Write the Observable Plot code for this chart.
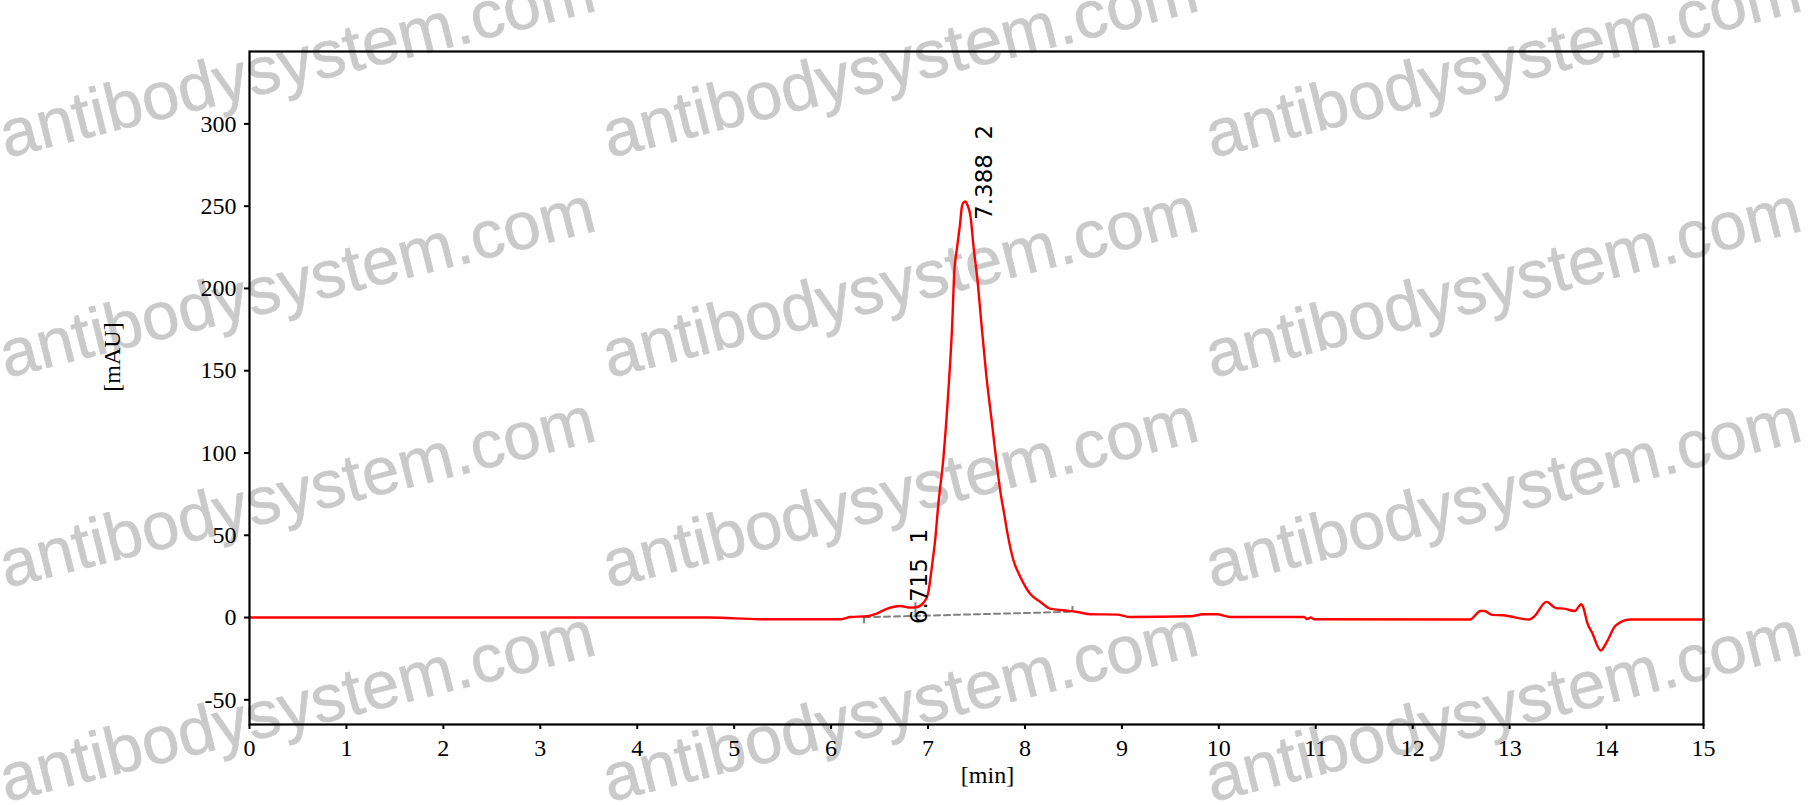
<!DOCTYPE html>
<html><head><meta charset="utf-8">
<script src="https://cdn.jsdelivr.net/npm/d3@7"></script>
<script src="https://cdn.jsdelivr.net/npm/@observablehq/plot@0.6"></script>
<style>
html,body{margin:0;padding:0;background:#fff;}
#wrap{position:relative;width:1812px;height:805px;overflow:hidden;}
#wm{position:absolute;left:0;top:0;}
#chart{position:absolute;left:0;top:0;}
</style></head><body>
<div id="wrap"><svg id="wm" width="1812" height="805"></svg><div id="chart"></div></div>
<script>
// ---- data ----
const timeMin = [0, 4.75, 5.27, 6.10, 6.20, 6.37, 6.47, 6.58, 6.71, 6.82, 6.89, 6.96, 7.00, 7.04, 7.08, 7.10, 7.16, 7.21, 7.25, 7.27, 7.30, 7.33, 7.35, 7.37, 7.385, 7.40, 7.44, 7.47, 7.51, 7.55, 7.60, 7.66, 7.72, 7.75, 7.78, 7.82, 7.88, 7.95, 8.06, 8.16, 8.26, 8.40, 8.54, 8.68, 8.95, 9.09, 9.71, 9.84, 9.98, 10.12, 10.88, 10.91, 10.95, 10.98, 12.59, 12.70, 12.74, 12.82, 12.93, 13.20, 13.25, 13.38, 13.48, 13.56, 13.67, 13.74, 13.76, 13.80, 13.85, 13.94, 14.01, 14.09, 14.24, 15.00];
const signalMAU = [0, 0, -1.0, -1.0, 0.3, 0.8, 2.4, 5.4, 7.0, 6.0, 6.4, 9.5, 14.5, 31, 51, 65, 98, 138, 179, 209, 225, 239, 250, 252.5, 252.8, 251.5, 243, 225, 205, 179, 148, 118, 88, 75, 65, 51, 35, 25, 14, 9.5, 5.4, 4.4, 3.4, 2.0, 1.8, 0.3, 0.8, 2.0, 2.0, 0.3, 0.3, -0.9, 0, -1.0, -1.2, 4.0, 4.0, 1.6, 1.4, -1.2, 0.4, 9.5, 5.7, 5.4, 4.0, 8.1, 6.1, -3.1, -9.1, -20, -14, -5.1, -1.2, -1.2];
const xTicks = [0,1,2,3,4,5,6,7,8,9,10,11,12,13,14,15];
const yTicks = [-50,0,50,100,150,200,250,300];
const peakRT = [6.715, 7.388];
const peakHeight = [7.0, 252.6];
const peakNumber = [1, 2];
const baselineT = [6.34, 8.49];
const baselineY = [0.2, 3.5];
const markerT = [6.34, 6.87, 8.49];
const markerFrom = [0.2, 1.0, 3.5];
const markerTo = [-3.8, 9.0, 6.7];
const watermarkText = "antibodysystem.com";

// ---- tables built from the arrays ----
const trace = timeMin.map((t, i) => ({t, v: signalMAU[i]}));
const peaks = peakRT.map((rt, i) => ({rt, h: peakHeight[i], n: peakNumber[i]}));
const baseline = baselineT.map((t, i) => ({t, v: baselineY[i]}));
const markers = markerT.map((t, i) => ({t, y1: markerFrom[i], y2: markerTo[i]}));

// ---- watermark layer (behind the chart) ----
const wm = d3.select("#wm");
const wmCols = [6, 609, 1212], wmRows = [158, 378, 588, 802];
for (const y of wmRows) for (const x of wmCols) {
  wm.append("text").attr("x", x).attr("y", y)
    .attr("transform", `rotate(-14 ${x} ${y})`)
    .attr("font-family", "'Liberation Sans', Arial, sans-serif")
    .attr("font-size", 67).attr("fill", "#cacaca")
    .attr("stroke", "#cacaca").attr("stroke-width", 0.6)
    .text(watermarkText);
}

const serif = "'Liberation Serif', 'Times New Roman', serif";
const chart = Plot.plot({
  width: 1812, height: 805,
  marginLeft: 249, marginRight: 109, marginTop: 51, marginBottom: 81,
  style: {background: "transparent", fontFamily: serif, fontSize: "24px", color: "black"},
  x: {domain: [0, 15]},
  y: {domain: [-65, 344]},
  marks: [
    Plot.line(baseline, {x: "t", y: "v", stroke: "#808080", strokeWidth: 2, strokeDasharray: "6,4"}),
    Plot.ruleX(markers, {x: "t", y1: "y1", y2: "y2", stroke: "#808080", strokeWidth: 2}),
    Plot.line(trace, {x: "t", y: "v", stroke: "#ff0000", strokeWidth: 2.4, curve: "monotone-x"}),
    Plot.text(peaks, {x: "rt", y: "h", text: d => `${d.rt}\u00a0\u00a0${d.n}`, rotate: -90, textAnchor: "start", dx: 19, dy: 18, fontFamily: "'DejaVu Sans', Verdana, sans-serif", fontSize: 23, fill: "black"}),
    Plot.axisX({ticks: xTicks, tickSize: 5, tickPadding: 9, tickFormat: d => String(d), label: null, strokeWidth: 2, fontSize: 24, fontFamily: serif}),
    Plot.axisY({ticks: yTicks, tickSize: 5, tickPadding: 8, tickFormat: d => String(d), label: null, strokeWidth: 2, fontSize: 24, fontFamily: serif}),
    Plot.frame({stroke: "black", strokeWidth: 2.2}),
    Plot.text(["[mAU]"], {frameAnchor: "left", textAnchor: "middle", lineAnchor: "middle", dx: -137, dy: -31, rotate: -90, fontSize: 24, fontFamily: serif}),
    Plot.text(["[min]"], {frameAnchor: "bottom", textAnchor: "middle", lineAnchor: "middle", dx: 11, dy: 51, fontSize: 24, fontFamily: serif})
  ]
});
document.getElementById("chart").appendChild(chart);
</script>
</body></html>
